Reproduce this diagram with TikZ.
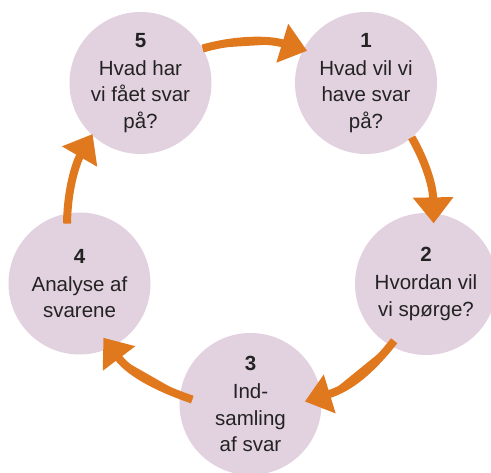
\documentclass[tikz,border=0pt]{standalone}
\usepackage{fontspec}
\setmainfont{Liberation Sans}
\usetikzlibrary{arrows.meta}

\definecolor{stagefill}{RGB}{226,209,223}
\definecolor{arroworange}{RGB}{224,120,30}
\definecolor{stagetext}{RGB}{35,35,35}

\tikzset{
    stage/.style={circle, fill=stagefill, minimum size=142pt, inner sep=0pt, outer sep=0pt,
        align=center, text=stagetext, font=\fontsize{20.5pt}{26.5pt}\selectfont},
    cyclearrow/.style={draw=arroworange, line width=8pt, looseness=.9,
        -{Triangle[width=39pt,length=26pt]}, fill=arroworange}
}

\begin{document}
\begin{tikzpicture}[x=1pt,y=1pt]

    \useasboundingbox (-252.5,-245.5) rectangle (238.5,227.5);

    %draw circles:
    \node[stage] (c5) at (-112,144.5) {\textbf{5}\\[1.5pt]Hvad har\\vi fået svar\\på?};
    \node[stage] (c1) at (113.5,144.5) {\textbf{1}\\[1.5pt]Hvad vil vi\\have svar\\på?};
    \node[stage] (c2) at (173.5,-56.5) {\textbf{2}\\[1.5pt]Hvordan vil\\vi spørge?};
    \node[stage] (c3) at (-2,-176.5) {\textbf{3}\\[1.5pt]Ind-\\samling\\af svar};
    \node[stage] (c4) at (-173,-56) {\textbf{4}\\[1.5pt]Analyse af\\svarene};

    %draw arrows:
    \draw[cyclearrow, shorten >=-4pt] (c5.29) to[out=16, in=163] (c1.152);
    \draw[cyclearrow, shorten >=-10pt] (c1.-50) to[out=-60, in=91] (c2.84);
    \draw[cyclearrow, shorten <=-6pt, shorten >=-17pt] (c2.240) to[out=-128, in=17] (c3.6);
    \draw[cyclearrow, shorten <=-13pt, shorten >=-12pt] (c3.173) to[out=161, in=-53] (c4.-64);
    \draw[cyclearrow, shorten <=-10pt, shorten >=-1pt] (c4.100) to[out=89, in=-120] (c5.227);

\end{tikzpicture}
\end{document}
